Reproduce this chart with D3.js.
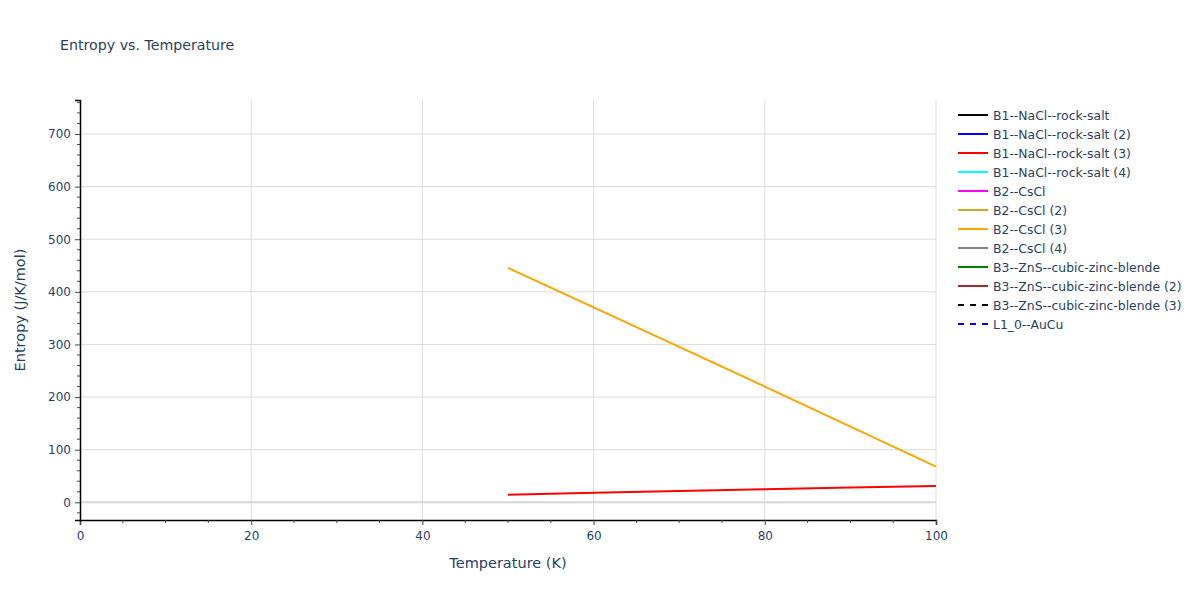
<!DOCTYPE html>
<html>
<head>
<meta charset="utf-8">
<script src="https://cdn.jsdelivr.net/npm/d3@7"></script>
<style>
  body { margin: 0; background: #fff; }
  text { font-family: "DejaVu Sans", Verdana, sans-serif; }
</style>
</head>
<body>
<svg id="chart" width="1200" height="600"></svg>
<script>
// ---- data ----
const temperatureB1_3 = [50, 60, 70, 80, 90, 100];
const entropyB1_3 = [14.4, 18.0, 21.5, 25.0, 28.2, 31.0];
const temperatureB2_3 = [50, 60, 70, 80, 90, 100];
const entropyB2_3 = [445.4, 370.5, 295.5, 220.0, 144.0, 67.7];

const seriesNames = [
  "B1--NaCl--rock-salt", "B1--NaCl--rock-salt (2)", "B1--NaCl--rock-salt (3)",
  "B1--NaCl--rock-salt (4)", "B2--CsCl", "B2--CsCl (2)", "B2--CsCl (3)",
  "B2--CsCl (4)", "B3--ZnS--cubic-zinc-blende", "B3--ZnS--cubic-zinc-blende (2)",
  "B3--ZnS--cubic-zinc-blende (3)", "L1_0--AuCu"
];
const seriesColors = ["#000000", "#0000ff", "#ff0000", "#00ffff", "#ff00ff", "#daa520",
  "#ffa500", "#808080", "#008000", "#a52a2a", "#000000", "#0000ff"];
const seriesDash = [null, null, null, null, null, null, null, null, null, null, "6,6", "6,6"];

const xTicks = [0, 20, 40, 60, 80, 100];
const yTicks = [0, 100, 200, 300, 400, 500, 600, 700];
const xDomain = [0, 100];
const yDomain = [-33.6, 764.6];

// ---- layout ----
const svg = d3.select("#chart");
const m = { left: 80, right: 264, top: 100, bottom: 80 };
const W = 1200, H = 600;
const pw = W - m.left - m.right, ph = H - m.top - m.bottom;
const textColor = "#2a3f5f";

const x = d3.scaleLinear().domain(xDomain).range([m.left, m.left + pw]);
const y = d3.scaleLinear().domain(yDomain).range([m.top + ph, m.top]);

// title
svg.append("text").attr("x", 60).attr("y", 50).attr("font-size", 14.2)
  .attr("fill", textColor).text("Entropy vs. Temperature");

// grid
const g = svg.append("g");
g.selectAll(".vg").data(xTicks.filter(d => d > 0)).enter().append("line")
  .attr("x1", d => x(d)).attr("x2", d => x(d)).attr("y1", m.top).attr("y2", m.top + ph)
  .attr("stroke", "#dcdcdc").attr("stroke-width", 1);
g.selectAll(".hg").data(yTicks.filter(d => d !== 0)).enter().append("line")
  .attr("x1", m.left).attr("x2", m.left + pw).attr("y1", d => y(d)).attr("y2", d => y(d))
  .attr("stroke", "#dcdcdc").attr("stroke-width", 1);
// zero line
g.append("line").attr("x1", m.left).attr("x2", m.left + pw).attr("y1", y(0)).attr("y2", y(0))
  .attr("stroke", "#d6d6d6").attr("stroke-width", 2);

// lines
const line = d3.line().x(d => x(d[0])).y(d => y(d[1]));
const plotG = svg.append("g");
plotG.append("path").datum(d3.zip(temperatureB1_3, entropyB1_3)).attr("d", line)
  .attr("fill", "none").attr("stroke", seriesColors[2]).attr("stroke-width", 2);
plotG.append("path").datum(d3.zip(temperatureB2_3, entropyB2_3)).attr("d", line)
  .attr("fill", "none").attr("stroke", seriesColors[6]).attr("stroke-width", 2);

// x axis
const xAxis = d3.axisBottom(x).tickValues(xTicks).tickSize(5).tickPadding(6).tickFormat(d3.format("d"));
const xg = svg.append("g").attr("transform", `translate(0,${m.top + ph})`).call(xAxis);
const xMinor = d3.range(0, 101, 5).filter(d => d % 20 !== 0);
svg.append("g").selectAll("line").data(xMinor).enter().append("line")
  .attr("x1", d => x(d)).attr("x2", d => x(d)).attr("y1", m.top + ph).attr("y2", m.top + ph + 3)
  .attr("stroke", "#444");
// y axis
const yAxis = d3.axisLeft(y).tickValues(yTicks).tickSize(5).tickPadding(4).tickFormat(d3.format("d"));
const yg = svg.append("g").attr("transform", `translate(${m.left},0)`).call(yAxis);
const yMinor = d3.range(-20, 761, 20).filter(d => d % 100 !== 0);
svg.append("g").selectAll("line").data(yMinor).enter().append("line")
  .attr("x1", m.left - 3).attr("x2", m.left).attr("y1", d => y(d)).attr("y2", d => y(d))
  .attr("stroke", "#444");

[xg, yg].forEach(a => {
  a.select(".domain").attr("stroke", "#000").attr("stroke-width", 1.5);
  a.selectAll(".tick line").attr("stroke", "#444");
  a.selectAll(".tick text").attr("fill", textColor).attr("font-size", 12)
    .style("font-family", '"DejaVu Sans", Verdana, sans-serif');
});

// axis titles
svg.append("text").attr("x", m.left + pw / 2).attr("y", 568).attr("text-anchor", "middle")
  .attr("font-size", 14.5).attr("fill", textColor).text("Temperature (K)");
svg.append("text").attr("transform", `translate(25,${m.top + ph / 2}) rotate(-90)`)
  .attr("text-anchor", "middle").attr("font-size", 14.5).attr("fill", textColor)
  .text("Entropy (J/K/mol)");

// legend
const lg = svg.append("g").attr("transform", "translate(958,115)");
const items = lg.selectAll("g").data(seriesNames).enter().append("g")
  .attr("transform", (d, i) => `translate(0,${i * 19})`);
items.append("line").attr("x1", 0).attr("x2", 30).attr("y1", 0).attr("y2", 0)
  .attr("stroke", (d, i) => seriesColors[i]).attr("stroke-width", 2)
  .attr("stroke-dasharray", (d, i) => seriesDash[i]);
items.append("text").attr("x", 35).attr("y", 4.5).attr("font-size", 12.4)
  .attr("fill", textColor).text(d => d);
</script>
</body>
</html>
